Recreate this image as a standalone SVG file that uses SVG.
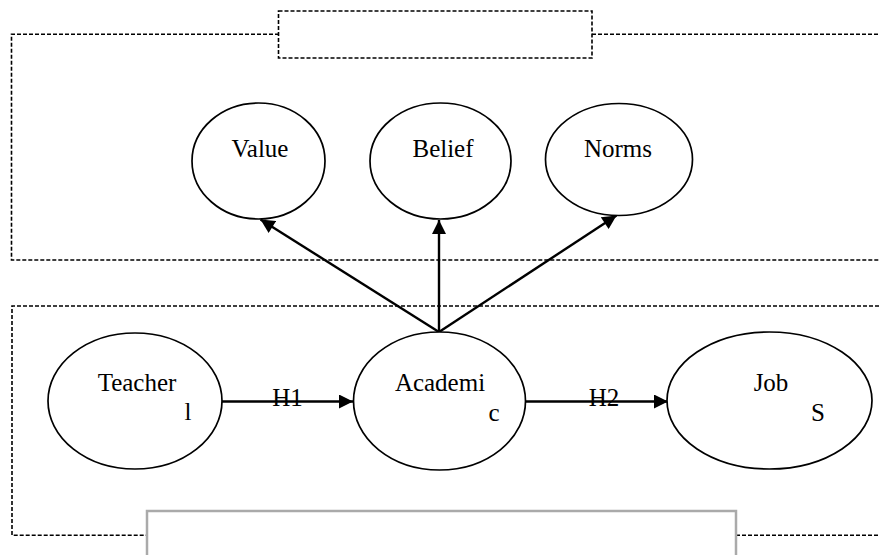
<svg xmlns="http://www.w3.org/2000/svg" width="879" height="555" viewBox="0 0 879 555">
  <style>
    .frame { fill: none; stroke: #000; stroke-width: 1.6; stroke-dasharray: 4 2; }
    .node ellipse { fill: #fff; stroke: #000; stroke-width: 1.7; }
    .label { font-family: "Liberation Serif", "Times New Roman", serif; font-size: 25px; fill: #000; }
    .edge { fill: none; stroke: #000; stroke-width: 2.4; }
  </style>
  <defs>
    <marker id="arrowBig" viewBox="0 0 10 10" refX="10" refY="5" markerWidth="15" markerHeight="14" markerUnits="userSpaceOnUse" orient="auto">
      <path d="M0,0 L10,5 L0,10 z" fill="#000"/>
    </marker>
  </defs>
  <rect width="879" height="555" fill="#fff"/>

  <!-- upper grouping frame with title slot -->
  <g id="upper-frame">
    <path class="frame" d="M279,34.3 H11.5 V260 H879"/>
    <path class="frame" d="M592,34.3 H879"/>
    <rect class="frame" x="278.5" y="11" width="313.5" height="47" fill="#fff"/>
  </g>

  <!-- lower grouping frame with caption slot -->
  <g id="lower-frame">
    <path class="frame" d="M879,306 H12 V535.3 H147"/>
    <path class="frame" d="M736,535.3 H879"/>
    <rect x="147" y="511" width="589" height="60" fill="#fff" stroke="#aaa" stroke-width="2.5"/>
  </g>

  <!-- connectors -->
  <g id="connectors">
    <line class="edge" x1="439" y1="332" x2="260.5" y2="219.5" marker-end="url(#arrowBig)"/>
    <line class="edge" x1="439" y1="332" x2="439" y2="220" marker-end="url(#arrowBig)"/>
    <line class="edge" x1="439" y1="332" x2="616.5" y2="215.5" marker-end="url(#arrowBig)"/>
    <line class="edge" x1="222" y1="401.5" x2="353" y2="401.5" marker-end="url(#arrowBig)"/>
    <line class="edge" x1="525.5" y1="401.5" x2="668" y2="401.5" marker-end="url(#arrowBig)"/>
    <text class="label" x="287.5" y="406" text-anchor="middle">H1</text>
    <text class="label" x="604" y="406" text-anchor="middle">H2</text>
  </g>

  <g id="value" class="node">
    <ellipse cx="258.5" cy="161" rx="66.5" ry="58"/>
    <text class="label" x="260" y="157" text-anchor="middle">Value</text>
  </g>
  <g id="belief" class="node">
    <ellipse cx="440.5" cy="161" rx="70.5" ry="58"/>
    <text class="label" x="443" y="157" text-anchor="middle">Belief</text>
  </g>
  <g id="norms" class="node">
    <ellipse cx="619" cy="159.5" rx="73.5" ry="56"/>
    <text class="label" x="618" y="157" text-anchor="middle">Norms</text>
  </g>

  <g id="teacher" class="node">
    <ellipse cx="135" cy="401" rx="87" ry="68"/>
    <text class="label" x="137" y="391" text-anchor="middle">Teacher</text>
    <text class="label" x="188" y="420" text-anchor="middle">l</text>
  </g>
  <g id="academic" class="node">
    <ellipse cx="439.5" cy="401" rx="86" ry="69"/>
    <text class="label" x="440" y="391" text-anchor="middle">Academi</text>
    <text class="label" x="494" y="421" text-anchor="middle">c</text>
  </g>
  <g id="job" class="node">
    <ellipse cx="769.5" cy="400.5" rx="102.5" ry="68.5"/>
    <text class="label" x="771" y="391" text-anchor="middle">Job</text>
    <text class="label" x="818" y="421" text-anchor="middle">S</text>
  </g>
</svg>
